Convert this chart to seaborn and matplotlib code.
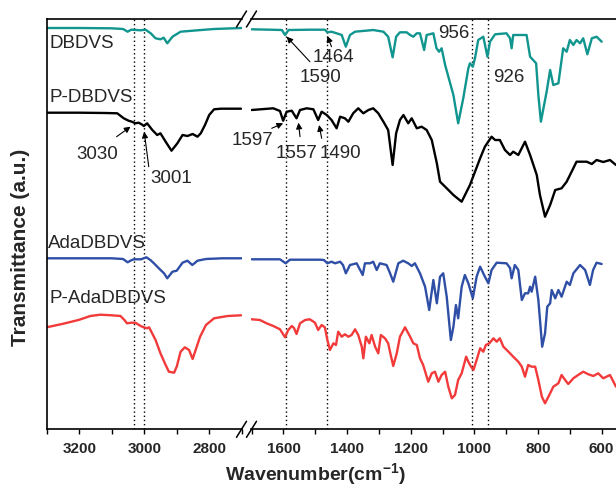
import matplotlib
matplotlib.use("Agg")
import matplotlib.pyplot as plt
from matplotlib.lines import Line2D
from matplotlib.ticker import MultipleLocator
import seaborn as sns

# ---------------- FTIR spectra (wavenumber in cm-1, transmittance in a.u.) ----------------
# High-wavenumber window (3300-2700 cm-1)
dbdvs_wn_hi = [3300, 3200, 3100, 3065, 3051, 3040, 3025, 3011, 2996, 2980, 2965, 2950,
               2940, 2929, 2913, 2888, 2836, 2785, 2700]
dbdvs_hi = [401.3, 401.3, 401, 400.3, 397.6, 399.6, 399.3, 399, 399.6, 396, 391, 390,
            391.6, 386, 392.6, 397.6, 399, 400.3, 401.3]

pdbdvs_wn_hi = [3300, 3200, 3120, 3083, 3063, 3048, 3038, 3027, 3017, 3008, 3001, 2991,
                2975, 2960, 2950, 2934, 2916, 2898, 2882, 2867, 2851, 2836, 2826, 2813,
                2800, 2785, 2764, 2730, 2702]
pdbdvs_hi = [316.6, 316.6, 316.3, 316, 311, 308.6, 307.6, 306, 306.6, 305, 303.3, 306,
             299.3, 294.3, 296, 287.6, 278.6, 286, 294.3, 293.3, 295.3, 292.6, 296, 304.3,
             314.3, 320, 320.6, 320.6, 320.6]

ada_wn_hi = [3300, 3200, 3100, 3065, 3051, 3040, 3032, 3010, 2993, 2980, 2970, 2955,
             2939, 2929, 2913, 2900, 2882, 2867, 2852, 2836, 2810, 2760, 2700]
ada_hi = [171, 171, 171, 170.3, 167, 169, 170, 170, 172, 169, 166, 161,
          156, 151, 157.6, 158.6, 166.6, 168.6, 164.3, 168.6, 170.3, 171, 171]

pada_wn_hi = [3300, 3250, 3200, 3166, 3135, 3100, 3073, 3060, 3053, 3039, 3027, 3011,
              3001, 2991, 2985, 2965, 2950, 2934, 2924, 2908, 2900, 2888, 2875, 2862,
              2851, 2841, 2828, 2810, 2785, 2743, 2702]
pada_hi = [102, 105.5, 109.5, 113.3, 114.6, 114, 113.3, 109, 106, 106.6, 106.6, 103.3,
           102, 101, 102, 89.3, 76, 64.3, 57.6, 56.6, 62.6, 77.6, 82, 79.3,
           70.3, 80, 92.6, 104.3, 111, 113.3, 114]

# Fingerprint window (1700-555 cm-1)
dbdvs_wn_lo = [1700, 1642, 1605, 1595, 1584, 1517, 1470, 1462, 1449, 1433, 1417, 1404,
               1391, 1375, 1318, 1286, 1271, 1257, 1246, 1234, 1213, 1202, 1192, 1181,
               1171, 1158, 1150, 1129, 1119, 1111, 1103, 1092, 1066, 1051, 1035, 1019,
               1014, 1005, 998, 988, 972, 959, 951, 935, 899, 888, 883, 878, 836, 825,
               806, 799, 791, 781, 773, 762, 752, 736, 721, 710, 700, 689, 679, 668,
               658, 645, 631, 616, 600]
dbdvs_lo = [400, 399.6, 399.3, 394.3, 399.3, 399.6, 399.6, 397, 397.6, 396, 394.3, 382.6,
            394.3, 397.6, 399.3, 397.6, 392.6, 372, 392.6, 397, 397, 394.3, 392.6, 396,
            396, 379.3, 394.3, 396, 381, 377.6, 381, 364.3, 334.3, 306, 331, 361,
            366, 362.6, 371.3, 389.3, 392.6, 372.6, 387.6, 395, 396, 391, 381, 394.3, 394.3, 372.6,
            366, 334.3, 307.6, 324.3, 337.6, 359.3, 344.3, 346, 381, 377.6, 389.3, 384.3, 389.3, 386,
            391, 375, 391, 392.6, 387.6]

pdbdvs_wn_lo = [1700, 1632, 1611, 1601, 1590, 1574, 1559, 1548, 1527, 1506, 1491, 1480,
                1464, 1449, 1433, 1422, 1407, 1396, 1381, 1365, 1349, 1333, 1318, 1302,
                1286, 1271, 1257, 1246, 1234, 1223, 1208, 1197, 1181, 1166, 1150, 1134,
                1118, 1108, 1092, 1066, 1040, 1014, 982, 967, 946, 935, 920, 904, 888,
                878, 862, 841, 825, 804, 794, 778, 762, 746, 726, 710, 679, 647, 631,
                616, 595, 574, 555]
pdbdvs_lo = [319.3, 321, 318.3, 308.6, 317.6, 318.6, 311, 319.3, 321, 320, 309.3, 317.6,
             314.3, 309.3, 301, 312.6, 311, 307.6, 316, 321, 316, 319.3, 321, 316,
             307.6, 299.3, 264.3, 296, 309.3, 314.3, 306, 311, 301, 302.6, 299.3, 289.3,
             266, 247.6, 242.6, 234.3, 227.6, 244.3, 271, 282.6, 292.6, 289.3, 289.3, 279.3, 274.3,
             277.6, 274.3, 287.6, 274.3, 254.3, 234.3, 212.6, 224.3, 239.3, 241, 247.6, 267.6, 267.6, 265.3,
             269.3, 267.3, 269.3, 264.3]

ada_wn_lo = [1700, 1611, 1593, 1580, 1485, 1473, 1462, 1449, 1438, 1422, 1413, 1404,
             1391, 1370, 1351, 1344, 1328, 1318, 1307, 1297, 1276, 1265, 1255, 1239,
             1224, 1208, 1197, 1187, 1171, 1155, 1142, 1129, 1118, 1108, 1098, 1087,
             1074, 1066, 1058, 1051, 1040, 1030, 1019, 1005, 993, 982, 967, 956, 946,
             930, 899, 888, 883, 873, 862, 851, 841, 831, 825, 820, 809, 799, 787,
             778, 771, 762, 757, 746, 736, 726, 710, 700, 689, 668, 652, 637, 627,
             616, 600]
ada_lo = [170, 170, 166, 169.6, 169.6, 169.3, 166, 167.6, 166, 167.6, 164.3, 156,
          164.3, 166, 154.3, 166, 166, 167.6, 159.3, 166, 164.3, 156, 147.6, 166,
          168.6, 166, 163.3, 166, 156, 142.6, 119.3, 149.3, 126, 152.6, 156, 132.6,
          89.3, 102.6, 124.3, 111, 142.6, 154.3, 146, 131, 152.6, 162.6, 152.6, 146, 159.3,
          166.6, 166, 161.3, 151, 164.3, 159.3, 129.3, 136, 136, 142.6, 137.6, 152.6, 129.3, 82.6,
          96, 122.6, 126, 139.3, 131, 139.3, 132.6, 147.6, 144.3, 156, 164.3, 159.3, 144.3, 159.3,
          166.6, 165.3]

pada_wn_lo = [1700, 1674, 1653, 1632, 1611, 1595, 1585, 1574, 1567, 1559, 1548, 1532,
              1517, 1501, 1491, 1480, 1470, 1462, 1454, 1443, 1435, 1428, 1417, 1407,
              1396, 1386, 1375, 1365, 1354, 1349, 1341, 1330, 1323, 1312, 1302, 1294,
              1281, 1271, 1263, 1255, 1244, 1234, 1218, 1202, 1192, 1181, 1171, 1161,
              1145, 1134, 1124, 1113, 1103, 1092, 1082, 1071, 1061, 1051, 1040, 1026,
              1019, 1012, 1003, 993, 982, 972, 964, 953, 940, 930, 920, 909, 893, 878,
              862, 851, 841, 831, 820, 809, 799, 788, 778, 762, 752, 736, 726, 715,
              705, 689, 674, 658, 642, 626, 611, 595, 574, 555]
pada_lo = [110, 109.3, 106, 103.3, 100, 92, 99.3, 103.3, 101.3, 95.3, 106, 109.3,
           110, 106.6, 99.3, 104.3, 102, 89.3, 79.3, 86, 84.3, 97.6, 92.6, 95,
           92.6, 94.3, 100, 94.3, 82.6, 71, 92.6, 86, 94.3, 82.6, 76, 94.3,
           91, 86, 74.3, 63.3, 76, 92.6, 102, 92.6, 86, 84.3, 71, 64.3,
           47.6, 56, 57.6, 47.6, 54.3, 57.6, 42.6, 31, 34.3, 49.3, 56, 72.6,
           67.6, 63.3, 59.3, 69.3, 81, 77.6, 84.3, 86, 91, 87.6, 91, 82.6, 77.6, 72.6,
           67.6, 62.6, 52.6, 64.3, 62.6, 62.6, 49.3, 32.6, 26, 36, 42.6, 46, 54.3, 49.3,
           45.3, 51, 54.3, 57.6, 55, 53.3, 56, 51, 54.3, 42.6]

series_names = ["DBDVS", "P-DBDVS", "AdaDBDVS", "P-AdaDBDVS"]
series_colors = ["#11958f", "#000000", "#2f4fa6", "#f23a3a"]

# Marked band positions (cm-1)
bands_hi = [3030, 3001]
bands_lo = [1593, 1464, 1008, 957]

# ---------------- styling ----------------
sns.set_theme(style="white")
plt.rcParams["font.family"] = ["Liberation Sans", "DejaVu Sans"]
plt.rcParams["mathtext.fontset"] = "custom"
plt.rcParams["mathtext.rm"] = "Liberation Sans"
plt.rcParams["mathtext.bf"] = "Liberation Sans:bold"

W, H = 616, 488
fig = plt.figure(figsize=(W / 100, H / 100), dpi=100)


def fx(px):
    return px / W


def fy(py):
    return 1 - py / H


bottom, top = fy(429.3), fy(19)
ax_hi = fig.add_axes([fx(46.7), bottom, fx(241.7) - fx(46.7), top - bottom])
ax_lo = fig.add_axes([fx(250.7), bottom, 1 - fx(250.7), top - bottom])

hi_data = [(dbdvs_wn_hi, dbdvs_hi), (pdbdvs_wn_hi, pdbdvs_hi),
           (ada_wn_hi, ada_hi), (pada_wn_hi, pada_hi)]
lo_data = [(dbdvs_wn_lo, dbdvs_lo), (pdbdvs_wn_lo, pdbdvs_lo),
           (ada_wn_lo, ada_lo), (pada_wn_lo, pada_lo)]

for (xh, yh), (xl, yl), color in zip(hi_data, lo_data, series_colors):
    sns.lineplot(x=xh, y=yh, ax=ax_hi, color=color, lw=1.7,
                 estimator=None, sort=False, legend=False)
    sns.lineplot(x=xl, y=yl, ax=ax_lo, color=color, lw=1.7,
                 estimator=None, sort=False, legend=False)

ax_hi.set_xlim(3300, 2700)
ax_lo.set_xlim(1703, 555)

for ax in (ax_hi, ax_lo):
    ax.set_ylim(0, 410.3)
    ax.set_yticks([])
    ax.set_xlabel("")
    ax.set_ylabel("")
    ax.xaxis.set_major_locator(MultipleLocator(200))
    ax.xaxis.set_minor_locator(MultipleLocator(100))
    ax.tick_params(axis="x", which="both", direction="out", length=3.5, width=1,
                   color="black", bottom=True, top=False, pad=6, labelsize=11)
    for lab in ax.get_xticklabels():
        lab.set_fontweight("bold")
    for sp in ax.spines.values():
        sp.set_color("black")
        sp.set_linewidth(1.2)
    ax.patch.set_alpha(0)

ax_hi.spines["right"].set_visible(False)
ax_lo.spines["left"].set_visible(False)
ax_lo.spines["right"].set_visible(False)

dot = dict(color="black", lw=1, ls=(0, (1, 2)), zorder=0)
for b in bands_hi:
    ax_hi.axvline(b, **dot)
for b in bands_lo:
    ax_lo.axvline(b, **dot)

# Axis break marks on top and bottom spines
for cx in (241.5, 251.5):
    for cy in (19, 429.3):
        fig.add_artist(Line2D([fx(cx - 5), fx(cx + 5)], [fy(cy + 8), fy(cy - 8)],
                              transform=fig.transFigure, color="black", lw=1.1))

# Series names
lab_fs = 13.5
name_pos = [(3290, 381.3), (3290, 327.3), (3296, 181.3), (3290, 126.3)]
for name, (x, y) in zip(series_names, name_pos):
    ax_hi.text(x, y, name, fontsize=lab_fs, ha="left", va="baseline")

# Peak annotations: (axis, label, text x, text baseline y, arrow tail, arrow tip)
arrow_kw = dict(arrowstyle="-|>", color="black", lw=0.8, mutation_scale=9,
                shrinkA=0, shrinkB=0)
peaks = [
    (ax_hi, "3030", 3146, 270.3, (3085, 292.6), (3042, 302.6)),
    (ax_hi, "3001", 2917, 246.3, (2986, 262.6), (3000, 297.6)),
    (ax_lo, "1464", 1443, 367.3, (1449, 382.6), (1462, 393.3)),
    (ax_lo, "1590", 1483, 347.3, (1517, 367.6), (1590, 392.6)),
    (ax_lo, "1597", 1697, 284.3, (1637, 301), (1601, 306)),
    (ax_lo, "1557", 1558, 271.3, (1548, 292.6), (1553, 306.6)),
    (ax_lo, "1490", 1420, 271.3, (1480, 291), (1488, 304.3)),
    (ax_lo, "956", 1066, 391.3, None, None),
    (ax_lo, "926", 893, 347.3, None, None),
]
for ax, txt, x, y, tail, tip in peaks:
    ax.text(x, y, txt, fontsize=lab_fs, ha="center", va="baseline", clip_on=False)
    if tail is not None:
        ax.annotate("", xy=tip, xytext=tail, arrowprops=arrow_kw,
                    annotation_clip=False)

# Axis titles
fig.text(fx(315.5), fy(481), r"Wavenumber(cm$^{\mathbf{-1}}$)", fontsize=14,
         fontweight="bold", ha="center", va="baseline")
fig.text(fx(21), fy(247.5), "Transmittance (a.u.)", fontsize=15,
         fontweight="bold", rotation=90, ha="center", va="center")

fig.savefig("out.png", dpi=100)
